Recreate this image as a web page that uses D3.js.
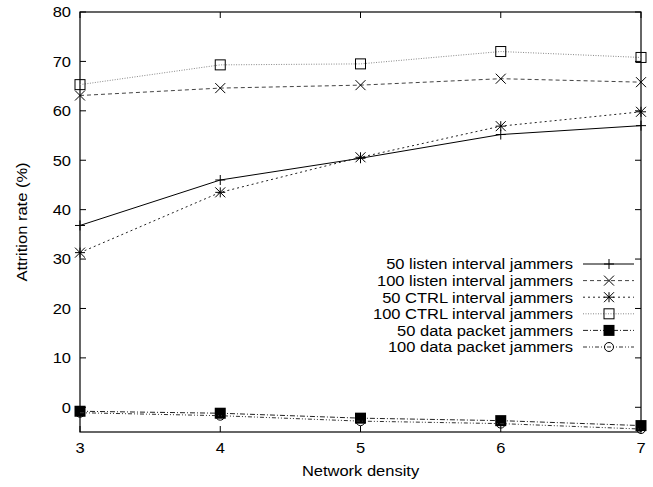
<!DOCTYPE html>
<html>
<head>
<meta charset="utf-8">
<script src="https://cdn.jsdelivr.net/npm/d3@7"></script>
<style>
  body { margin: 0; background: #fff; }
  svg { display: block; }
  text { font-family: "Liberation Sans", Arial, sans-serif; font-size: 15px; fill: #000; }
</style>
</head>
<body>
<div class="chart"></div>
<script>
// data
var densities = [3, 4, 5, 6, 7];
var seriesNames = [
  "50 listen interval jammers",
  "100 listen interval jammers",
  "50 CTRL interval jammers",
  "100 CTRL interval jammers",
  "50 data packet jammers",
  "100 data packet jammers"
];
var listen50 = [36.8, 46.0, 50.4, 55.2, 57.0];
var listen100 = [63.1, 64.6, 65.2, 66.5, 65.8];
var ctrl50 = [31.3, 43.5, 50.6, 56.9, 59.8];
var ctrl100 = [65.3, 69.3, 69.5, 72.0, 70.8];
var data50 = [-0.8, -1.2, -2.2, -2.7, -3.7];
var data100 = [-1.1, -1.7, -2.8, -3.3, -4.4];
var yTicks = [0, 10, 20, 30, 40, 50, 60, 70, 80];

// setup
var width = 653, height = 487;
var margin = {top: 12, right: 12, bottom: 55, left: 80},
    w = 641 - margin.left,
    h = 432 - margin.top;

var xScale = d3.scaleLinear().domain([3, 7]).range([0, w]);
var yScale = d3.scaleLinear().domain([-5, 80]).range([h, 0]);

var svg = d3.select(".chart")
    .append("svg")
    .attr("width", width)
    .attr("height", height);

var g = svg.append("g")
    .attr("transform", "translate(" + margin.left + "," + margin.top + ")");

// gnuplot style fonts are a bit wider than Liberation
var sx = 1.1;
function label(sel, x, y) {
  return sel.attr("transform", "translate(" + x + "," + y + ") scale(" + sx + ",1)");
}

// ticks (inward, mirrored)
var tickLen = 6;
yTicks.forEach(function(t) {
  var y = yScale(t);
  g.append("line").attr("x1", 0).attr("x2", tickLen).attr("y1", y).attr("y2", y)
    .attr("stroke", "#000");
  g.append("line").attr("x1", w - tickLen).attr("x2", w).attr("y1", y).attr("y2", y)
    .attr("stroke", "#000");
  label(g.append("text"), -9, y).attr("text-anchor", "end").attr("dy", "0.36em").text(t);
});
densities.forEach(function(t) {
  var x = xScale(t);
  g.append("line").attr("x1", x).attr("x2", x).attr("y1", h).attr("y2", h - tickLen)
    .attr("stroke", "#000");
  g.append("line").attr("x1", x).attr("x2", x).attr("y1", 0).attr("y2", tickLen)
    .attr("stroke", "#000");
  label(g.append("text"), x, h + 21).attr("text-anchor", "middle").text(t);
});

// border
g.append("rect")
  .attr("x", 0).attr("y", 0).attr("width", w).attr("height", h)
  .attr("fill", "none").attr("stroke", "#000").attr("stroke-width", 1.2);

// axis labels
label(g.append("text"), w / 2, h + 44).attr("text-anchor", "middle").text("Network density");
g.append("text")
  .attr("transform", "translate(" + (22 - margin.left + 5) + "," + (h / 2) + ") rotate(-90) scale(" + sx + ",1)")
  .attr("text-anchor", "middle")
  .text("Attrition rate (%)");

// marker shapes
function marker(sel, type) {
  var s = 5;
  if (type === "plus") {
    sel.append("path").attr("d", "M" + (-s) + ",0H" + s + "M0," + (-s) + "V" + s)
      .attr("stroke", "#000").attr("fill", "none");
  } else if (type === "cross") {
    sel.append("path").attr("d", "M" + (-s) + "," + (-s) + "L" + s + "," + s + "M" + (-s) + "," + s + "L" + s + "," + (-s))
      .attr("stroke", "#000").attr("fill", "none");
  } else if (type === "star") {
    sel.append("path").attr("d", "M" + (-s) + "," + (-s) + "L" + s + "," + s + "M" + (-s) + "," + s + "L" + s + "," + (-s) +
        "M" + (-s) + ",0H" + s + "M0," + (-s) + "V" + s)
      .attr("stroke", "#000").attr("fill", "none");
  } else if (type === "square") {
    sel.append("rect").attr("x", -5).attr("y", -5).attr("width", 10).attr("height", 10)
      .attr("stroke", "#000").attr("fill", "none");
  } else if (type === "fsquare") {
    sel.append("rect").attr("x", -5.5).attr("y", -5.5).attr("width", 11).attr("height", 11)
      .attr("fill", "#000");
  } else if (type === "circle") {
    sel.append("circle").attr("r", 4.5).attr("stroke", "#000").attr("fill", "none");
  }
}

var series = [
  {name: seriesNames[0], values: listen50, color: "#000", dash: null, mark: "plus"},
  {name: seriesNames[1], values: listen100, color: "#444", dash: "4,3", mark: "cross"},
  {name: seriesNames[2], values: ctrl50, color: "#222", dash: "2,3", mark: "star"},
  {name: seriesNames[3], values: ctrl100, color: "#888", dash: "1,1.5", mark: "square"},
  {name: seriesNames[4], values: data50, color: "#222", dash: "5,2,1,2", mark: "fsquare"},
  {name: seriesNames[5], values: data100, color: "#333", dash: "4,2,1,2,1,2", mark: "circle"}
];

var line = d3.line()
    .x(function(d, i) { return xScale(densities[i]); })
    .y(function(d) { return yScale(d); });

series.forEach(function(s) {
  g.append("path")
    .datum(s.values)
    .attr("d", line)
    .attr("fill", "none")
    .attr("stroke", s.color)
    .attr("stroke-width", 1)
    .attr("stroke-dasharray", s.dash);
  s.values.forEach(function(v, i) {
    var m = g.append("g")
      .attr("transform", "translate(" + xScale(densities[i]) + "," + yScale(v) + ")");
    marker(m, s.mark);
  });
});

// legend
var legend = svg.selectAll(".legend")
    .data(series)
  .enter().append("g")
    .attr("class", "legend")
    .attr("transform", function(d, i) { return "translate(0," + (264 + i * 16.6) + ")"; });

legend.append("line")
    .attr("x1", 583).attr("x2", 634).attr("y1", 0).attr("y2", 0)
    .attr("stroke", function(d) { return d.color; })
    .attr("stroke-dasharray", function(d) { return d.dash; });

legend.each(function(d) {
  var m = d3.select(this).append("g").attr("transform", "translate(609,0)");
  marker(m, d.mark);
});

legend.append("text")
    .attr("transform", "translate(573,0) scale(" + sx + ",1)")
    .attr("dy", "0.36em")
    .style("text-anchor", "end")
    .text(function(d) { return d.name; });
</script>
</body>
</html>
